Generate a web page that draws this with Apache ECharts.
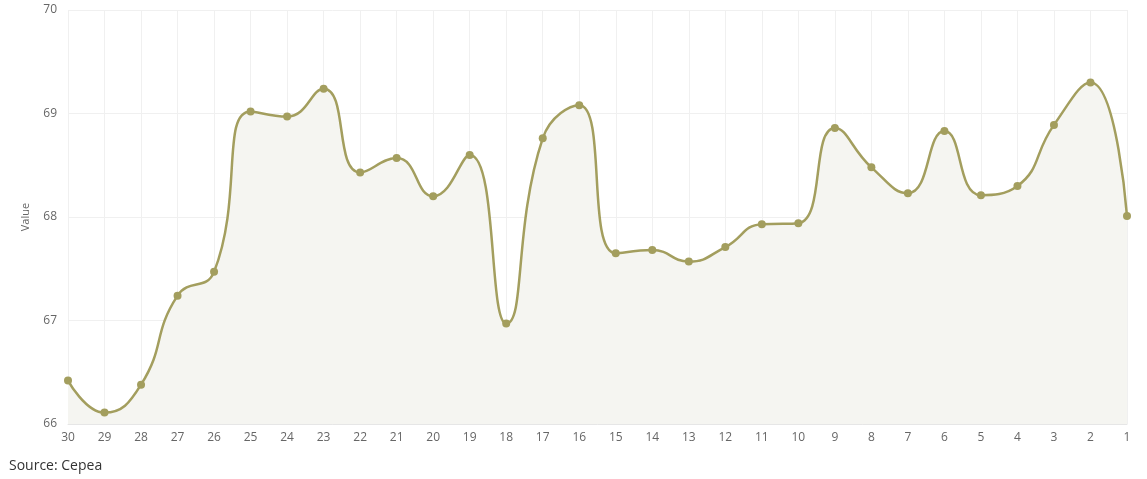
<!DOCTYPE html>
<html><head><meta charset="utf-8">
<script src="https://cdn.jsdelivr.net/npm/echarts@6/dist/echarts.min.js"></script>
<style>html,body{margin:0;padding:0;background:#fff}#c{width:1147px;height:479px}</style>
</head><body><div id="c"></div>
<script>
const categories = ['30','29','28','27','26','25','24','23','22','21','20','19','18','17','16','15','14','13','12','11','10','9','8','7','6','5','4','3','2','1'];
const values = [66.42,66.11,66.38,67.24,67.47,69.02,68.97,69.24,68.43,68.57,68.20,68.60,66.97,68.76,69.08,67.65,67.68,67.57,67.71,67.93,67.94,68.86,68.48,68.23,68.83,68.21,68.30,68.89,69.30,68.01];
const yTicks = [66,67,68,69,70];
const sourceText = 'Source: Cepea';

const chart = echarts.init(document.getElementById('c'));
chart.setOption({
  animation:false,
  textStyle:{fontFamily:'Open Sans'},
  grid:{left:68,right:20,top:10,bottom:55},
  graphic:[{type:'text',left:9,top:459,style:{text:sourceText,fill:'#333',font:'14px "Open Sans"'}}],
  xAxis:{type:'category',data:categories,boundaryGap:false,
    axisLine:{show:true,lineStyle:{color:'#e6e6e6'}},axisTick:{show:false},
    axisLabel:{color:'#666',fontSize:12,margin:8},
    splitLine:{show:true,lineStyle:{color:'#f0f0f0'}}},
  yAxis:{type:'value',min:yTicks[0],max:yTicks[yTicks.length-1],interval:1,
    name:'Value',nameLocation:'middle',nameGap:37,nameRotate:90,
    nameTextStyle:{color:'#666',fontSize:11},
    axisLine:{show:false},axisTick:{show:false},
    axisLabel:{color:'#666',fontSize:12,margin:11},
    splitLine:{lineStyle:{color:'#f0f0f0'}}},
  series:[{type:'line',data:values,smooth:0.5,
    symbol:'circle',symbolSize:8,
    itemStyle:{color:'#a39e5e'},
    lineStyle:{color:'#a39e5e',width:2.5},
    areaStyle:{color:'#f5f5f1',opacity:1}}]
});
</script></body></html>
